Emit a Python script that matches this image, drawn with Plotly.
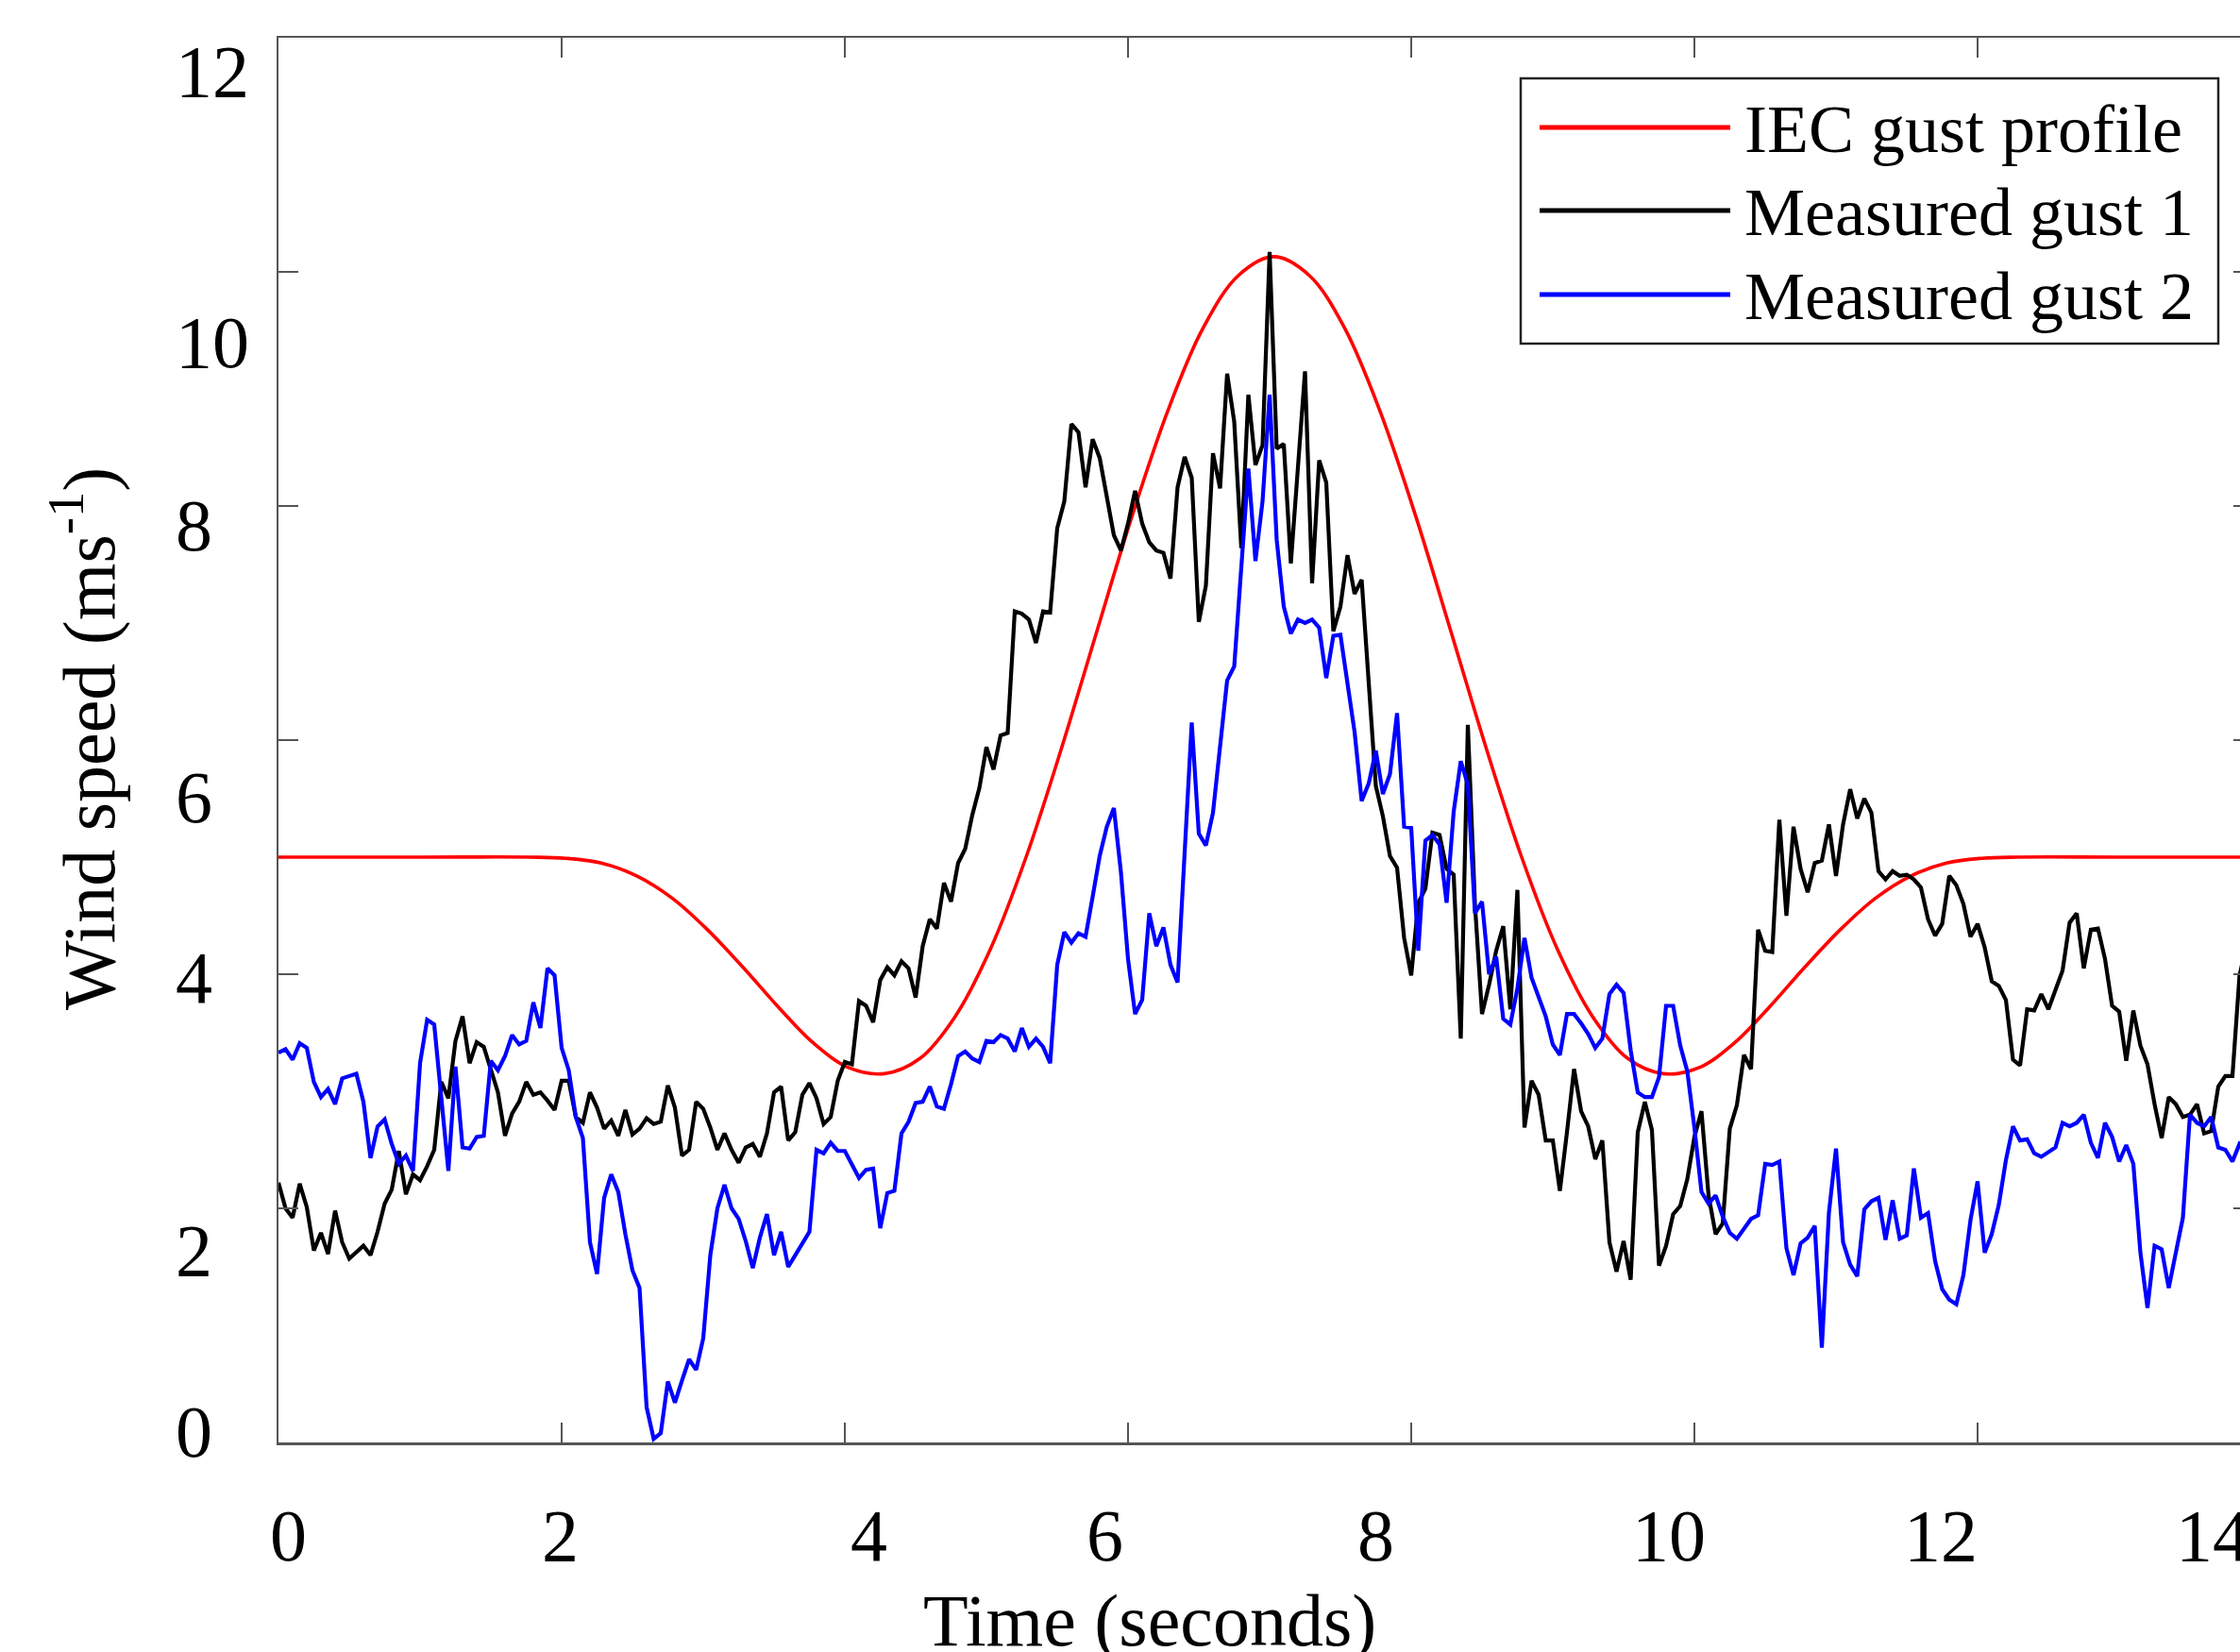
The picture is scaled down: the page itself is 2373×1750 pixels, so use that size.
import numpy as np
import plotly.graph_objects as go

# ---------------- data ----------------
series_names = ["IEC gust profile", "Measured gust 1", "Measured gust 2"]
series_colors = ["#FF0000", "#000000", "#0000FF"]

# IEC extreme operating gust
iec_time = [0.0, 1.0, 1.78, 2.03, 2.28, 2.53, 2.78, 3.03, 3.28, 3.53, 3.78, 4.03,
            4.28, 4.53, 4.78, 5.03, 5.28, 5.53, 5.78, 6.03, 6.28, 6.53, 6.78, 7.03,
            7.28, 7.53, 7.78, 8.03, 8.28, 8.53, 8.78, 9.03, 9.28, 9.53, 9.78, 10.03,
            10.28, 10.53, 10.78, 11.03, 11.28, 11.53, 11.78, 12.03, 12.28, 13.0, 14.0]
iec_speed = [5.0, 5.0, 5.0, 4.99, 4.95, 4.84, 4.65, 4.38, 4.06, 3.72, 3.41, 3.20,
             3.15, 3.28, 3.64, 4.22, 5.0, 5.93, 6.93, 7.92, 8.81, 9.52, 9.97, 10.13,
             9.97, 9.52, 8.81, 7.92, 6.93, 5.93, 5.0, 4.22, 3.64, 3.28, 3.15, 3.20,
             3.41, 3.72, 4.06, 4.38, 4.65, 4.84, 4.95, 4.99, 5.0, 5.0, 5.0]

sample_interval = 0.05  # s, measured records

gust1_speed = [
    2.22, 2.00, 1.92, 2.21, 2.01, 1.64, 1.79, 1.61, 1.98, 1.71,
    1.57, 1.63, 1.68, 1.60, 1.80, 2.04, 2.16, 2.49, 2.12, 2.29,
    2.24, 2.36, 2.50, 3.08, 2.94, 3.43, 3.64, 3.24, 3.42, 3.38,
    3.18, 2.99, 2.62, 2.81, 2.91, 3.08, 2.97, 2.99, 2.92, 2.84,
    3.09, 3.09, 2.78, 2.73, 2.99, 2.86, 2.68, 2.75, 2.62, 2.84,
    2.63, 2.68, 2.77, 2.72, 2.74, 3.05, 2.86, 2.45, 2.50, 2.91,
    2.85,
    2.69, 2.50, 2.64, 2.50, 2.39, 2.52, 2.55, 2.44, 2.64, 2.99,
    3.04, 2.58, 2.65, 2.97, 3.07, 2.94, 2.72, 2.78, 3.09, 3.25,
    3.23, 3.77, 3.73, 3.59, 3.95, 4.06, 3.99, 4.11, 4.05, 3.80,
    4.24, 4.47, 4.39, 4.78, 4.62, 4.95, 5.07, 5.36, 5.59, 5.94,
    5.75, 6.04, 6.06, 7.10, 7.08, 7.03, 6.83, 7.10, 7.09, 7.81,
    8.04, 8.70, 8.63, 8.16, 8.57, 8.41, 8.06, 7.75, 7.62, 7.85,
    8.13, 7.85, 7.69, 7.62, 7.60, 7.38, 8.16, 8.42, 8.24, 7.01,
    7.32, 8.45, 8.15, 9.13, 8.72, 7.64, 8.95, 8.35, 8.52, 10.17,
    8.49, 8.53, 7.51, 8.36, 9.15, 7.34, 8.39, 8.20, 6.93, 7.14,
    7.58, 7.25, 7.37, 6.49, 5.61, 5.35, 5.01, 4.91, 4.31, 3.99,
    4.61, 4.73, 5.21, 5.19,
    4.90, 4.85, 3.45, 6.13, 4.60, 3.66, 3.91, 4.20, 4.41, 3.70,
    4.72, 2.69, 3.09, 2.97, 2.58, 2.58, 2.15, 2.65, 3.19, 2.83,
    2.70, 2.42, 2.58, 1.71, 1.46, 1.72, 1.39, 2.65, 2.91, 2.67,
    1.51, 1.68, 1.95, 2.02, 2.25, 2.61, 2.83, 2.11, 1.78, 1.87,
    2.68, 2.88, 3.31, 3.19, 4.38, 4.20, 4.19, 5.32, 4.50, 5.26,
    4.90, 4.70, 4.95, 4.97, 5.28, 4.84,
    5.28, 5.58, 5.33, 5.50, 5.38, 4.88, 4.81, 4.88, 4.84, 4.85,
    4.81, 4.74, 4.47, 4.33, 4.43, 4.84, 4.76, 4.60, 4.32, 4.43,
    4.23, 3.94, 3.90, 3.78, 3.27, 3.22, 3.70, 3.69, 3.83, 3.70,
    3.87, 4.03, 4.44, 4.52, 4.05, 4.38, 4.39, 4.13, 3.73, 3.68,
    3.26, 3.69, 3.39, 3.23, 2.89, 2.60, 2.95, 2.89, 2.78, 2.80,
    2.89, 2.64, 2.66, 3.04, 3.13, 3.13, 3.99, 4.25,
]

gust2_speed = [
    3.33, 3.36, 3.27, 3.41, 3.37, 3.08, 2.95, 3.02, 2.89, 3.11,
    3.13, 3.15, 2.91, 2.43, 2.70, 2.76, 2.55, 2.38, 2.45, 2.32,
    3.24, 3.61, 3.57, 2.92, 2.32, 3.21, 2.52, 2.51, 2.61, 2.62,
    3.26, 3.18, 3.30, 3.48, 3.40, 3.43, 3.76, 3.54, 4.05, 3.99,
    3.37, 3.18, 2.78, 2.60, 1.71, 1.44, 2.09, 2.29, 2.14, 1.78,
    1.47, 1.32, 0.30, 0.03, 0.08, 0.52, 0.34, 0.53, 0.71, 0.62,
    0.89,
    1.60, 2.00, 2.20, 2.00, 1.91, 1.72, 1.49, 1.75, 1.95, 1.60,
    1.80, 1.50, 1.60, 1.70, 1.80,
    2.50, 2.47, 2.56, 2.49, 2.49, 2.37, 2.26, 2.33, 2.34, 1.83,
    2.13, 2.15, 2.64, 2.74, 2.90, 2.91, 3.04, 2.87, 2.85, 3.06,
    3.30, 3.34, 3.28, 3.25, 3.43, 3.42, 3.48, 3.45, 3.34, 3.54,
    3.38, 3.45, 3.38, 3.24, 4.08, 4.36,
    4.27, 4.35, 4.32, 4.66, 5.01, 5.26, 5.42, 4.87, 4.13, 3.66,
    3.78, 4.52, 4.24, 4.40, 4.08, 3.93, 5.05, 6.15, 5.20, 5.10,
    5.38, 5.95, 6.51, 6.63, 7.51, 8.32, 7.53, 8.04, 8.95, 7.71,
    7.14, 6.91, 7.03, 7.00, 7.03, 6.96, 6.53, 6.89, 6.90, 6.49,
    6.07, 5.48, 5.63, 5.91, 5.54, 5.71, 6.23, 5.26, 5.25, 4.20,
    5.14, 5.19, 5.11,
    4.61, 5.39, 5.82, 5.62, 4.52, 4.62, 4.00, 4.15, 3.62, 3.57,
    3.88, 4.31, 3.97, 3.80, 3.64, 3.40, 3.31, 3.66, 3.66, 3.58,
    3.49, 3.37, 3.45, 3.83, 3.91, 3.84, 3.35, 2.99, 2.95, 2.95,
    3.12, 3.73, 3.73, 3.39, 3.17, 2.69, 2.14, 2.04, 2.11, 1.93,
    1.79, 1.74, 1.83, 1.91, 1.94, 2.38, 2.37, 2.40, 1.66, 1.43,
    1.70, 1.75, 1.85, 0.81, 1.96, 2.51,
    1.71, 1.52, 1.42, 1.99, 2.06, 2.09, 1.73, 2.07, 1.74, 1.77,
    2.34, 1.92, 1.96, 1.55, 1.31, 1.22, 1.18, 1.43, 1.90, 2.23,
    1.62, 1.78, 2.03, 2.41, 2.70, 2.58, 2.59, 2.47, 2.44, 2.48,
    2.52, 2.73, 2.70, 2.73, 2.80, 2.56, 2.43, 2.73, 2.61, 2.40,
    2.54, 2.38, 1.62, 1.15, 1.68, 1.65, 1.32, 1.62, 1.92, 2.80,
    2.73, 2.70, 2.78, 2.52, 2.50, 2.40, 2.55, 2.50,
]

gust1_time = np.round(np.arange(len(gust1_speed)) * sample_interval, 2)
gust2_time = np.round(np.arange(len(gust2_speed)) * sample_interval, 2)

x_tick_values = [0, 2, 4, 6, 8, 10, 12, 14]
x_tick_labels = ["0", "2", "4", "6", "8", "10", "12", "14"]
y_tick_values = [0, 2, 4, 6, 8, 10, 12]
y_tick_labels = ["0", "2", "4", "6", "8", "10", "12"]

x_title = "Time (seconds)"
y_title = "Wind speed (ms<sup>-1</sup>)"

# ---------------- layout geometry (page pixels) ----------------
W, H = 2373, 1750
PL, PT, PB, PR = 295, 40, 1528, W   # plot box; the axes box runs past the right edge
PX_PER_SEC = 150.0
x_max = (PR - PL) / PX_PER_SEC

def px(xp):
    return (xp - PL) / (PR - PL)

def py(yp):
    return (PB - yp) / (PB - PT)

FONT = "Liberation Serif, Times New Roman, serif"
AXIS_COLOR = "#555555"

fig = go.Figure()
fig.add_trace(go.Scatter(x=iec_time, y=iec_speed, mode="lines", name=series_names[0],
                         line=dict(color=series_colors[0], width=3.6, shape="spline"),
                         showlegend=False))
fig.add_trace(go.Scatter(x=gust1_time, y=gust1_speed, mode="lines", name=series_names[1],
                         line=dict(color=series_colors[1], width=4.2), showlegend=False))
fig.add_trace(go.Scatter(x=gust2_time, y=gust2_speed, mode="lines", name=series_names[2],
                         line=dict(color=series_colors[2], width=4.2), showlegend=False))

fig.update_layout(
    width=W, height=H, autosize=False,
    margin=dict(l=PL, r=W - PR, t=PT, b=H - PB, pad=0),
    paper_bgcolor="white", plot_bgcolor="white",
    font=dict(family=FONT, color="black"),
    xaxis=dict(range=[0, x_max], showgrid=False, zeroline=False,
               showline=True, linecolor=AXIS_COLOR, linewidth=2.5, mirror="ticks",
               ticks="inside", ticklen=21, tickwidth=2, tickcolor=AXIS_COLOR,
               tickvals=x_tick_values, showticklabels=False),
    yaxis=dict(range=[0, 12], showgrid=False, zeroline=False,
               showline=True, linecolor=AXIS_COLOR, linewidth=2.5, mirror=False,
               ticks="inside", ticklen=21, tickwidth=2, tickcolor=AXIS_COLOR,
               tickvals=y_tick_values, showticklabels=False),
)

annotations = []
# tick labels (placed as in the reference figure)
x_label_px = [305, 593, 920, 1170, 1457, 1768, 2056, 2344]
for lab, xp in zip(x_tick_labels, x_label_px):
    annotations.append(dict(text=lab, xref="paper", yref="paper", x=px(xp), y=py(1626),
                            xanchor="center", yanchor="middle", showarrow=False,
                            font=dict(size=78, family=FONT, color="black")))
y_label_py = [1516, 1324, 1035, 844, 556, 363, 75]
for lab, yp in zip(y_tick_labels, y_label_py):
    annotations.append(dict(text=lab, xref="paper", yref="paper", x=px(184), y=py(yp),
                            xanchor="left", yanchor="middle", showarrow=False,
                            font=dict(size=78, family=FONT, color="black")))
# axis titles
annotations.append(dict(text=x_title, xref="paper", yref="paper", x=px(1218), y=py(1716),
                        xanchor="center", yanchor="middle", showarrow=False,
                        font=dict(size=78, family=FONT, color="black")))
annotations.append(dict(text=y_title, xref="paper", yref="paper", x=px(89), y=py(783),
                        xanchor="center", yanchor="middle", showarrow=False, textangle=-90,
                        font=dict(size=78, family=FONT, color="black")))

shapes = []
# right-hand axis ticks (the axis itself lies just beyond the right edge)
for v in y_tick_values[1:-1]:
    shapes.append(dict(type="line", xref="paper", yref="y", x0=px(2366), x1=1.0,
                       y0=v, y1=v, line=dict(color=AXIS_COLOR, width=2)))

# legend (drawn box with long line samples)
shapes.append(dict(type="rect", xref="paper", yref="paper", x0=px(1611), x1=px(2350),
                   y0=py(364), y1=py(83), line=dict(color="#222222", width=2.5),
                   fillcolor="white", layer="above"))
leg_rows = [135, 223, 312]
for name, col, yp in zip(series_names, series_colors, leg_rows):
    shapes.append(dict(type="line", xref="paper", yref="paper", x0=px(1631), x1=px(1833),
                       y0=py(yp), y1=py(yp), line=dict(color=col, width=5), layer="above"))
    annotations.append(dict(text=name, xref="paper", yref="paper", x=px(1846), y=py(yp + 2),
                            xanchor="left", yanchor="middle", showarrow=False,
                            font=dict(size=72, family=FONT, color="black")))

fig.update_layout(annotations=annotations, shapes=shapes)

# place the figure flush with the window (no page margin, no scrollbars)
page_fix = ("document.body.style.margin='0';"
            "document.body.style.padding='0';"
            "document.documentElement.style.overflow='hidden';"
            "document.body.style.overflow='hidden';")
fig.write_html("out.html", post_script=page_fix,
               config={"displayModeBar": False, "staticPlot": True})
